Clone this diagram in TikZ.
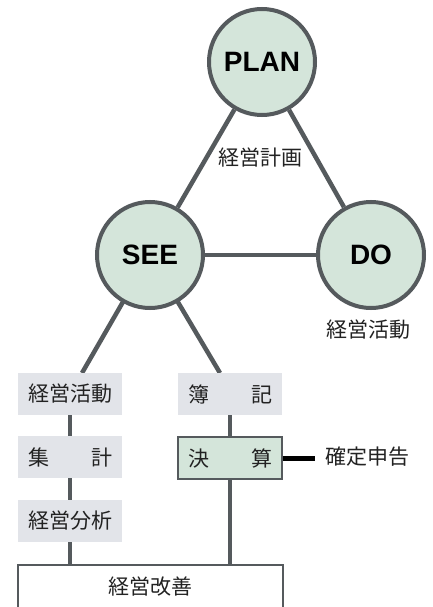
\documentclass[tikz,border=0pt]{standalone}
\usepackage{fontspec}
\setmainfont{Liberation Sans}
\newfontfamily\jp{Noto Sans CJK JP}
\usetikzlibrary{backgrounds,calc}
\definecolor{cfill}{HTML}{D4E5DA}
\definecolor{gfill}{HTML}{E2E4E9}
\definecolor{lcol}{HTML}{555A5D}
\definecolor{tcol}{HTML}{222222}
\tikzset{
  circ/.style={circle,draw=lcol,line width=4pt,fill=cfill,minimum size=106pt,inner sep=0pt,
    font=\fontsize{28}{28}\selectfont\bfseries,text=black},
  jptext/.style={font=\jp\fontsize{21}{21}\selectfont,text=tcol,inner sep=0pt},
  gbox/.style={rectangle,fill=gfill,minimum width=104pt,minimum height=42pt,inner sep=0pt,
    font=\jp\fontsize{21}{21}\selectfont,text=tcol},
  greenbox/.style={fill=cfill,draw=lcol,line width=1.3pt},
  wbox/.style={rectangle,fill=white,draw=lcol,line width=1.3pt,minimum width=265pt,minimum height=44pt,
    inner sep=0pt,font=\jp\fontsize{21}{21}\selectfont,text=tcol},
  conn/.style={draw=lcol,line width=4.5pt},
  blackconn/.style={draw=black,line width=5pt}
}
\begin{document}
\begin{tikzpicture}[x=1pt,y=-1pt]
\useasboundingbox (0,0) rectangle (432,607);
\clip (0,0) rectangle (432,607);
\node[circ] (plan) at (262,62) {PLAN};
\node[circ] (see) at (150,255) {SEE};
\node[circ] (do) at (371,255) {DO};
\node[jptext] (keikaku) at (260,158) {経営計画};
\node[jptext] (katsudo) at (368,330) {経営活動};
\node[gbox] (b1) at (70,394) {経営活動};
\node[gbox] (b2) at (230,394) {簿\hspace{2em}記};
\node[gbox] (b3) at (70,457) {集\hspace{2em}計};
\node[gbox,greenbox] (b4) at (230,458) {決\hspace{2em}算};
\node[gbox] (b5) at (70,521) {経営分析};
\node[wbox] (b6) at (150.5,587) {経営改善};
\node[jptext] (kakutei) at (367,457) {確定申告};
\coordinate (s1) at (82,373);
\coordinate (s2) at (220,373);
\begin{scope}[on background layer]
\fill[white] (0,0) rectangle (432,607);
\draw[conn] (plan) -- (see);
\draw[conn] (plan) -- (do);
\draw[conn] (see) -- (do);
\draw[conn] (see.center) -- (s1);
\draw[conn] (see.center) -- (s2);
\draw[conn] (b1) -- (b3);
\draw[conn] (b3) -- (b5);
\draw[conn] (b5) -- (b5 |- b6.north);
\draw[conn] (b2) -- (b4);
\draw[conn] (b4) -- (b4 |- b6.north);
\end{scope}
\draw[blackconn,shorten >=10pt] (b4.east) -- (b4.east -| kakutei.west);
\end{tikzpicture}
\end{document}
